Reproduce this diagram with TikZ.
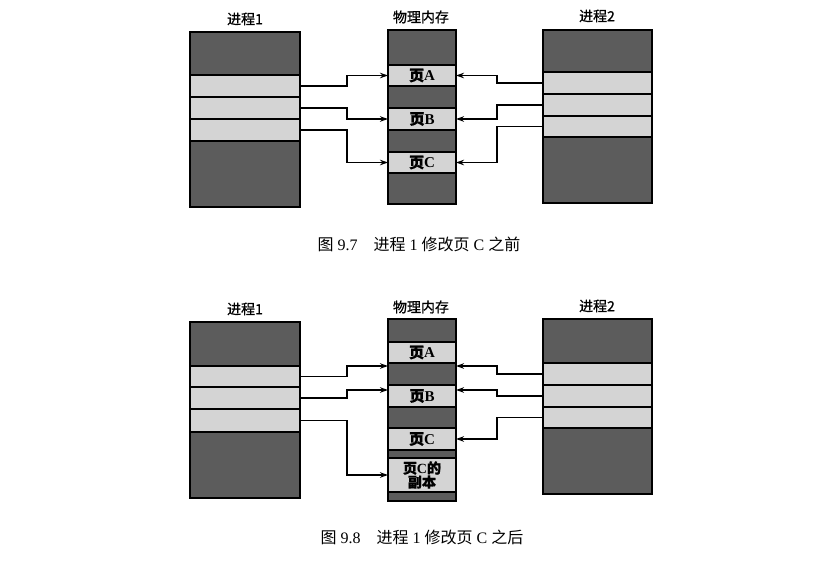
\documentclass[tikz,border=0pt]{standalone}
\usepackage{fontspec}
\setmainfont{Liberation Serif}
\newfontfamily\cjk{Noto Sans CJK SC}
\newfontfamily\cjkb[FakeBold=1]{Noto Sans CJK SC}
\usetikzlibrary{arrows.meta}
\definecolor{darkblk}{RGB}{92,92,92}
\definecolor{lightblk}{RGB}{212,212,212}
\begin{document}
\begin{tikzpicture}[x=1pt,y=-1pt,
  cell/.style={draw=black, line width=1.6pt, anchor=north west, inner sep=0pt, outer sep=0pt},
  dk/.style={cell, fill=darkblk},
  lt/.style={cell, fill=lightblk, font=\fontsize{15}{16}\selectfont\bfseries},
  ttl/.style={font=\cjkb\fontsize{14}{16}\selectfont},
  captext/.style={font=\fontsize{16}{18}\selectfont},
  arr/.style={draw=black, line width=1.5pt, -{Stealth[length=8pt,width=5.5pt]}}]
\useasboundingbox (0,0) rectangle (823,563);

% ===== Figure 9.7 =====
\node[ttl] (t1t) at (245,19) {进程1};
\node[ttl] (tmt) at (421,17) {物理内存};
\node[ttl] (t2t) at (597,16) {进程2};

\node[dk, minimum width=110, minimum height=43] (t1a) at (190,32) {};
\node[lt, minimum width=110, minimum height=22] (t1b) at (190,75) {};
\node[lt, minimum width=110, minimum height=22] (t1c) at (190,97) {};
\node[lt, minimum width=110, minimum height=22] (t1d) at (190,119) {};
\node[dk, minimum width=110, minimum height=66] (t1e) at (190,141) {};

\node[dk, minimum width=68, minimum height=35] (tm1) at (388,30) {};
\node[lt, minimum width=68, minimum height=21] (tmA) at (388,65) {{\cjkb 页}A};
\node[dk, minimum width=68, minimum height=22] (tm2) at (388,86) {};
\node[lt, minimum width=68, minimum height=22] (tmB) at (388,108) {{\cjkb 页}B};
\node[dk, minimum width=68, minimum height=22] (tm3) at (388,130) {};
\node[lt, minimum width=68, minimum height=21] (tmC) at (388,152) {{\cjkb 页}C};
\node[dk, minimum width=68, minimum height=31] (tm4) at (388,173) {};

\node[dk, minimum width=109, minimum height=42] (t2a) at (543,30) {};
\node[lt, minimum width=109, minimum height=22] (t2b) at (543,72) {};
\node[lt, minimum width=109, minimum height=22] (t2c) at (543,94) {};
\node[lt, minimum width=109, minimum height=21] (t2d) at (543,116) {};
\node[dk, minimum width=109, minimum height=66] (t2e) at (543,137) {};

\coordinate (tml) at (347,0);
\coordinate (tmr) at (497,0);
\draw[arr] (t1b.east) -- (t1b.east -| tml) |- (tmA.west);
\draw[arr] (t1c.east) -- (t1c.east -| tml) |- (tmB.west);
\draw[arr] (t1d.east) -- (t1d.east -| tml) |- (tmC.west);
\draw[arr] (t2b.west) -- (t2b.west -| tmr) |- (tmA.east);
\draw[arr] (t2c.west) -- (t2c.west -| tmr) |- (tmB.east);
\draw[arr] (t2d.west) -- (t2d.west -| tmr) |- (tmC.east);

\node[captext] (c1) at (419,244) {{\cjk 图} 9.7\hspace{1em}{\cjk 进程} 1 {\cjk 修改页} C {\cjk 之前}};

% ===== Figure 9.8 =====
\node[ttl] (b1t) at (245,309) {进程1};
\node[ttl] (bmt) at (421,307) {物理内存};
\node[ttl] (b2t) at (597,306) {进程2};

\node[dk, minimum width=110, minimum height=44] (b1a) at (190,322) {};
\node[lt, minimum width=110, minimum height=21] (b1b) at (190,366) {};
\node[lt, minimum width=110, minimum height=22] (b1c) at (190,387) {};
\node[lt, minimum width=110, minimum height=23] (b1d) at (190,409) {};
\node[dk, minimum width=110, minimum height=66] (b1e) at (190,432) {};

\node[dk, minimum width=68, minimum height=23] (bm1) at (388,319) {};
\node[lt, minimum width=68, minimum height=21] (bmA) at (388,342) {{\cjkb 页}A};
\node[dk, minimum width=68, minimum height=22] (bm2) at (388,363) {};
\node[lt, minimum width=68, minimum height=22] (bmB) at (388,385) {{\cjkb 页}B};
\node[dk, minimum width=68, minimum height=21] (bm3) at (388,407) {};
\node[lt, minimum width=68, minimum height=22] (bmC) at (388,428) {{\cjkb 页}C};
\node[dk, minimum width=68, minimum height=8] (bm4) at (388,450) {};
\node[lt, minimum width=68, minimum height=34, align=center, font=\fontsize{14}{14}\selectfont\bfseries] (bmD) at (388,458) {{\cjkb 页}C{\cjkb 的}\\{\cjkb 副本}};
\node[dk, minimum width=68, minimum height=9] (bm5) at (388,492) {};

\node[dk, minimum width=109, minimum height=44] (b2a) at (543,319) {};
\node[lt, minimum width=109, minimum height=22] (b2b) at (543,363) {};
\node[lt, minimum width=109, minimum height=22] (b2c) at (543,385) {};
\node[lt, minimum width=109, minimum height=21] (b2d) at (543,407) {};
\node[dk, minimum width=109, minimum height=66] (b2e) at (543,428) {};

\coordinate (bml) at (347,0);
\coordinate (bmr) at (497,0);
\draw[arr] (b1b.east) -- (b1b.east -| bml) |- ([yshift=8pt]bm2.west);
\draw[arr] (b1c.east) -- (b1c.east -| bml) |- ([yshift=6pt]bmB.west);
\draw[arr] (b1d.east) -- (b1d.east -| bml) |- (bmD.west);
\draw[arr] (b2b.west) -- (b2b.west -| bmr) |- ([yshift=8pt]bm2.east);
\draw[arr] (b2c.west) -- (b2c.west -| bmr) |- ([yshift=6pt]bmB.east);
\draw[arr] (b2d.west) -- (b2d.west -| bmr) |- (bmC.east);

\node[captext] (c2) at (422,537) {{\cjk 图} 9.8\hspace{1em}{\cjk 进程} 1 {\cjk 修改页} C {\cjk 之后}};
\end{tikzpicture}
\end{document}
